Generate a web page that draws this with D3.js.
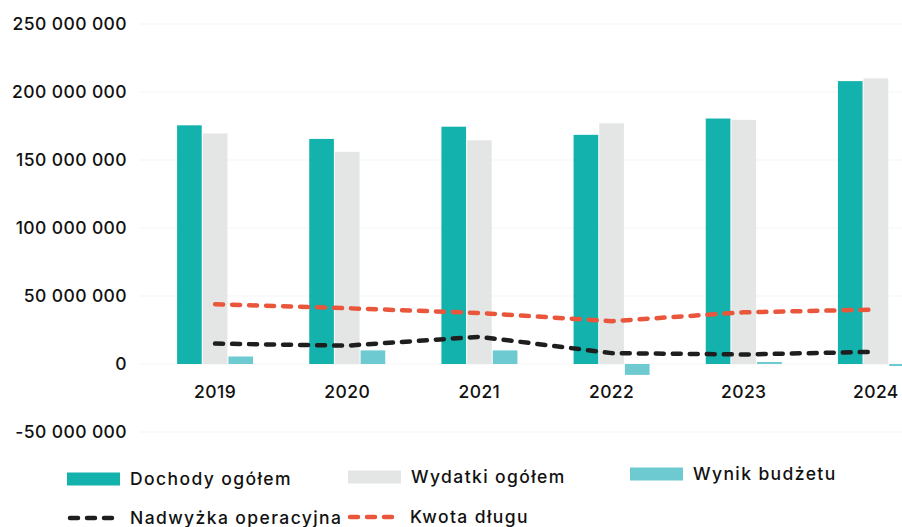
<!DOCTYPE html>
<html>
<head>
<meta charset="utf-8">
<script src="https://cdn.jsdelivr.net/npm/d3@7"></script>
<style>
  body { margin: 0; background: #fff; }
  svg { display: block; font-family: Inter, "Noto Sans", sans-serif; }
</style>
</head>
<body>
<div id="chart"></div>
<script>
// data
const years = ["2019", "2020", "2021", "2022", "2023", "2024"];
const dochody = [175.5e6, 165.5e6, 174.5e6, 168.5e6, 180.5e6, 208e6];
const wydatki = [169.5e6, 156e6, 164.5e6, 177e6, 179.5e6, 210e6];
const wynik = [5.5e6, 10e6, 10e6, -8e6, 1.5e6, -1.5e6];
const nadwyzka = [15e6, 13.5e6, 20e6, 8e6, 7e6, 9e6];
const kwotaDlugu = [44e6, 41e6, 37.5e6, 31.5e6, 38e6, 40e6];
const yTicks = [-50e6, 0, 50e6, 100e6, 150e6, 200e6, 250e6];

const barSeries = [
    { name: "Dochody ogółem", values: dochody, color: "#14b2ac" },
    { name: "Wydatki ogółem", values: wydatki, color: "#e4e5e5" },
    { name: "Wynik budżetu", values: wynik, color: "#6ccad0" }
];
const lineSeries = [
    { name: "Nadwyżka operacyjna", values: nadwyzka, color: "#1e1e1e" },
    { name: "Kwota długu", values: kwotaDlugu, color: "#e9563b" }
];

let chart = {
    width: 902,
    height: 527
};

var svg = d3.select("#chart")
    .append("svg")
    .attr("width", chart.width)
    .attr("height", chart.height);

var yscale = d3.scaleLinear()
    .domain([-50e6, 250e6])
    .range([432, 24]);

var xscale = d3.scaleBand()
    .domain(years)
    .range([149, 942])
    .paddingInner(0);

var step = xscale.bandwidth();
var sub = d3.scaleBand()
    .domain(barSeries.map(s => s.name))
    .range([step / 2 - 38, step / 2 + 38])
    .paddingInner(0.04);

const fmt = v => d3.format(",")(v).replace(/,/g, " ").replace("−", "-");

// faint grid
svg.append("g")
    .selectAll("line")
    .data(yTicks)
    .enter()
    .append("line")
    .attr("x1", 140)
    .attr("x2", chart.width)
    .attr("y1", d => yscale(d))
    .attr("y2", d => yscale(d))
    .attr("stroke", "#f5f5f5")
    .attr("stroke-width", 1);

// y axis labels
var yaxis = d3.axisLeft(yscale)
    .tickValues(yTicks)
    .tickFormat(fmt)
    .tickSize(0)
    .tickPadding(0);

svg.append("g")
    .attr("transform", "translate(127, 0)")
    .call(yaxis)
    .call(g => g.select(".domain").remove())
    .selectAll("text")
    .style("font-family", "Inter, sans-serif")
    .style("font-size", "17.5px")
    .style("font-weight", "500")
    .style("letter-spacing", "0.4px")
    .attr("fill", "#111");

// bars
barSeries.forEach(s => {
    svg.append("g")
        .selectAll("rect")
        .data(years)
        .enter()
        .append("rect")
        .attr("x", (d) => xscale(d) + sub(s.name))
        .attr("width", sub.bandwidth())
        .attr("y", (d, i) => yscale(Math.max(0, s.values[i])))
        .attr("height", (d, i) => Math.abs(yscale(s.values[i]) - yscale(0)))
        .attr("fill", s.color);
});

// lines
var generateLine = d3.line()
    .x((d, i) => xscale(years[i]) + step / 2)
    .y(d => yscale(d));

lineSeries.forEach(s => {
    svg.append("path")
        .datum(s.values)
        .attr("fill", "none")
        .attr("stroke", s.color)
        .attr("stroke-width", 4.5)
        .attr("stroke-linecap", "round")
        .attr("stroke-dasharray", "8 9")
        .attr("d", generateLine);
});

// x labels
svg.append("g")
    .selectAll("text")
    .data(years)
    .enter()
    .append("text")
    .attr("x", d => xscale(d) + step / 2)
    .attr("y", 398)
    .attr("text-anchor", "middle")
    .style("font-size", "17.5px")
    .style("font-weight", "500")
    .style("letter-spacing", "0.4px")
    .attr("fill", "#111")
    .text(d => d);

// legend
const legendBars = [
    { s: barSeries[0], x: 67, y: 479 },
    { s: barSeries[1], x: 348, y: 477 },
    { s: barSeries[2], x: 630, y: 474 }
];
const legendLines = [
    { s: lineSeries[0], x: 67, y: 518 },
    { s: lineSeries[1], x: 347, y: 517 }
];

var legend = svg.append("g");

legendBars.forEach(l => {
    legend.append("rect")
        .attr("x", l.x)
        .attr("y", l.y - 6.5)
        .attr("width", 53)
        .attr("height", 13)
        .attr("fill", l.s.color);
    legend.append("text")
        .attr("x", l.x + 63)
        .attr("y", l.y)
        .attr("dy", "0.35em")
        .style("font-size", "17.5px")
        .style("font-weight", "500")
        .style("letter-spacing", "1.4px")
        .attr("fill", "#111")
        .text(l.s.name);
});

legendLines.forEach(l => {
    legend.append("line")
        .attr("x1", l.x + 3)
        .attr("x2", l.x + 50)
        .attr("y1", l.y)
        .attr("y2", l.y)
        .attr("stroke", l.s.color)
        .attr("stroke-width", 4.5)
        .attr("stroke-linecap", "round")
        .attr("stroke-dasharray", "8 9");
    legend.append("text")
        .attr("x", l.x + 63)
        .attr("y", l.y)
        .attr("dy", "0.35em")
        .style("font-size", "17.5px")
        .style("font-weight", "500")
        .style("letter-spacing", "1.4px")
        .attr("fill", "#111")
        .text(l.s.name);
});
</script>
</body>
</html>
